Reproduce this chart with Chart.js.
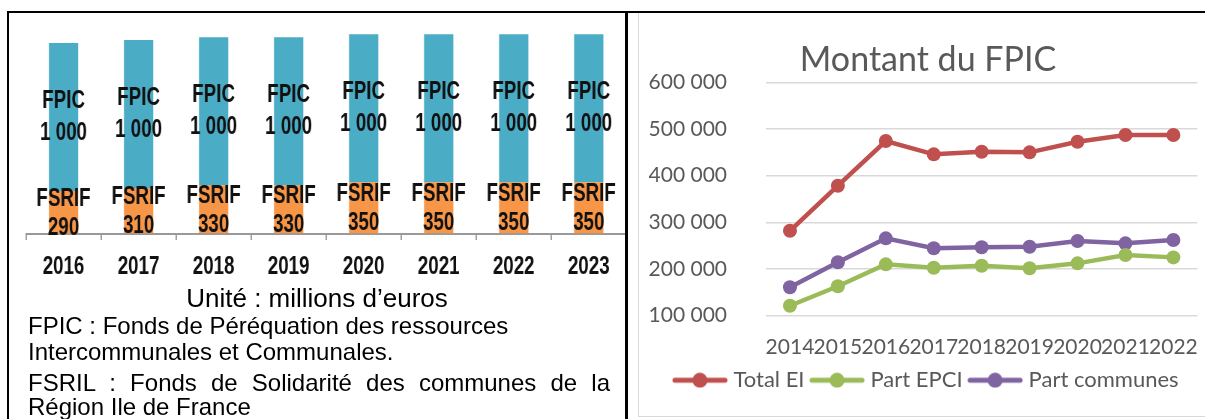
<!DOCTYPE html>
<html><head><meta charset="utf-8">
<script src="https://cdn.jsdelivr.net/npm/chart.js@4.4.1/dist/chart.umd.min.js"></script>
<style>
html,body{margin:0;padding:0;width:1205px;height:419px;overflow:hidden;background:#fff;}
.abs{position:absolute;}
#leftWrap{left:9px;top:12px;width:823px;height:282px;transform:scaleX(0.75);transform-origin:0 0;}
#rightWrap{left:639px;top:12px;width:578px;height:405px;}
.txt{position:absolute;font-family:'Liberation Sans',Arial,sans-serif;font-size:24px;color:#000;white-space:nowrap;line-height:26px;height:26px;}
.line{position:absolute;background:#000;z-index:5;}
</style></head><body>
<div class="abs" style="left:638px;top:12px;width:580px;height:403px;border:1.5px solid #d9d9d9;"></div>
<div class="abs" id="leftWrap"><canvas id="left"></canvas></div>
<div class="abs" id="rightWrap"><canvas id="right"></canvas></div>
<div class="line" style="left:7px;top:10.5px;width:1198px;height:2px;"></div>
<div class="line" style="left:7px;top:11px;width:2px;height:408px;"></div>
<div class="line" style="left:625px;top:11px;width:2.5px;height:408px;"></div>
<div class="txt" style="left:17px;width:600px;top:285px;text-align:center;font-size:26px;">Unité : millions d’euros</div>
<div class="txt" style="left:28px;top:313px;">FPIC : Fonds de Péréquation des ressources</div>
<div class="txt" style="left:28px;top:339px;">Intercommunales et Communales.</div>
<div class="txt" style="left:28px;top:370px;width:582px;white-space:normal;text-align:justify;text-align-last:justify;">FSRIL : Fonds de Solidarité des communes de la</div>
<div class="txt" style="left:28px;top:394px;">Région Ile de France</div>
<script>
// ---- Left chart data ----
const barYears = ['2016', '2017', '2018', '2019', '2020', '2021', '2022', '2023'];
const fpicValues = [1000, 1000, 1000, 1000, 1000, 1000, 1000, 1000];
const fsrifValues = [290, 310, 330, 330, 350, 350, 350, 350];
// ---- Right chart data ----
const lineYears = ['2014', '2015', '2016', '2017', '2018', '2019', '2020', '2021', '2022'];
const totalEI = [282000, 378600, 474300, 445800, 451400, 450100, 472800, 487200, 487200];
const partEPCI = [121400, 163000, 210100, 202900, 207100, 201600, 212200, 230000, 225000];
const partCommunes = [160900, 214400, 265800, 244400, 246600, 247900, 260000, 255100, 262200];

function fmtSpace(v) { return String(Math.round(v)).replace(/\B(?=(\d{3})+(?!\d))/g, ' '); }

const SANS = '"Liberation Sans", Arial, sans-serif';
const CAL = 'Lato, "Open Sans", sans-serif';

const barLabelPlugin = {
  id: 'barLabels',
  afterDatasetsDraw(chart, args, opts) {
    const ctx = chart.ctx;
    ctx.save();
    ctx.font = 'bold 25px ' + SANS;
    ctx.fillStyle = '#111';
    ctx.textAlign = 'center';
    ctx.textBaseline = 'middle';
    chart.data.datasets.forEach((ds, di) => {
      const meta = chart.getDatasetMeta(di);
      const st = opts.styles[di];
      meta.data.forEach((bar, i) => {
        const yc = (bar.y + bar.base) / 2 + st.shift;
        ctx.fillText(ds.label, bar.x, yc - st.gap / 2);
        ctx.fillText(fmtSpace(ds.data[i]), bar.x, yc + st.gap / 2);
      });
    });
    ctx.restore();
  }
};

new Chart(document.getElementById('left'), {
  type: 'bar',
  data: {
    labels: barYears,
    datasets: [
      { label: 'FSRIF', data: fsrifValues, backgroundColor: '#F79646', barPercentage: 0.39, categoryPercentage: 1 },
      { label: 'FPIC', data: fpicValues, backgroundColor: '#4BACC6', barPercentage: 0.39, categoryPercentage: 1 }
    ]
  },
  options: {
    responsive: true, maintainAspectRatio: false, animation: false,
    layout: { padding: { left: 22.7, right: 0, top: 0, bottom: 0 } },
    plugins: { legend: { display: false }, tooltip: { enabled: false },
      barLabels: { styles: [{ gap: 29, shift: 1 }, { gap: 32, shift: 0 }] } },
    scales: {
      x: {
        stacked: true,
        grid: { display: true, drawOnChartArea: false, drawTicks: true, tickLength: 6, color: '#a0a0a0', lineWidth: 2 },
        border: { display: true, color: '#999999', width: 2 },
        ticks: { color: '#111', padding: 12, font: { family: SANS, size: 25, weight: 'bold', lineHeight: 1.2 }, autoSkip: false, maxRotation: 0 }
      },
      y: {
        stacked: true, min: 0, max: 1500,
        ticks: { display: false, stepSize: 1000 },
        grid: { drawTicks: false, color: (c) => c.tick && c.tick.value === 1000 ? '#d9d9d9' : 'rgba(0,0,0,0)', lineWidth: 1.5 },
        border: { display: false }
      }
    }
  },
  plugins: [barLabelPlugin]
});

function legendIcon(color) {
  const c = document.createElement('canvas');
  c.width = 56; c.height = 16;
  const g = c.getContext('2d');
  g.strokeStyle = color; g.lineWidth = 5; g.lineCap = 'round';
  g.beginPath(); g.moveTo(3, 8); g.lineTo(53, 8); g.stroke();
  g.fillStyle = color; g.beginPath(); g.arc(28, 8, 7.5, 0, Math.PI * 2); g.fill();
  return c;
}
const lineColors = ['#C0504D', '#9BBB59', '#8064A2'];
const icons = lineColors.map(legendIcon);

function lineDs(label, data, color) {
  return { label, data, borderColor: color, backgroundColor: color, borderWidth: 4.5,
    pointRadius: 7, pointHoverRadius: 7, pointBackgroundColor: color, pointBorderWidth: 0, tension: 0 };
}

new Chart(document.getElementById('right'), {
  type: 'line',
  data: {
    labels: lineYears,
    datasets: [
      lineDs('Total EI', totalEI, lineColors[0]),
      lineDs('Part EPCI', partEPCI, lineColors[1]),
      lineDs('Part communes', partCommunes, lineColors[2])
    ]
  },
  options: {
    responsive: true, maintainAspectRatio: false, animation: false,
    layout: { padding: { left: 10, right: 10, top: 0, bottom: 15.8 } },
    plugins: {
      tooltip: { enabled: false },
      title: { display: true, text: 'Montant du FPIC', color: '#595959',
        font: { family: CAL, size: 34, weight: 'normal', lineHeight: 1.2 }, padding: { top: 27.6, bottom: 2 } },
      legend: { position: 'bottom',
        labels: { usePointStyle: true, pointStyleWidth: 45, padding: 10, color: '#595959',
          font: { family: CAL, size: 22 },
          generateLabels: (chart) => chart.data.datasets.map((ds, i) => ({
            text: ds.label, pointStyle: icons[i], fillStyle: ds.borderColor, strokeStyle: ds.borderColor,
            lineWidth: 0, hidden: false, datasetIndex: i, fontColor: '#595959' })) } }
    },
    scales: {
      x: { offset: true, grid: { display: false, drawTicks: false }, border: { display: false },
        afterFit: (s) => { s.height = 43.5; },
        ticks: { color: '#595959', padding: 18.7, autoSkip: false, maxRotation: 0,
          font: { family: CAL, size: 21, lineHeight: 1.2 } } },
      y: { min: 100000, max: 600000,
        afterFit: (s) => { s.width = 117; },
        grid: { color: '#d9d9d9', lineWidth: 1.5, drawTicks: false }, border: { display: false },
        ticks: { stepSize: 100000, padding: 39, color: '#595959', callback: (v) => fmtSpace(v),
          font: { family: CAL, size: 21, lineHeight: 1.2 } } }
    }
  }
});
</script>
</body></html>
